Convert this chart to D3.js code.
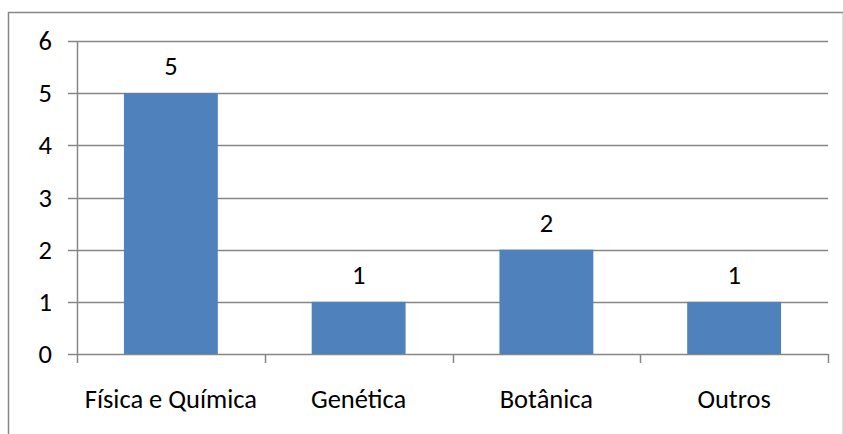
<!DOCTYPE html>
<html>
<head>
<meta charset="utf-8">
<script src="https://cdn.jsdelivr.net/npm/d3@7"></script>
<style>
  html, body { margin: 0; padding: 0; background: #fff; }
  svg { display: block; }
  text { font-family: Carlito, "Open Sans", sans-serif; fill: #000; }
</style>
</head>
<body>
<svg id="chart" width="843" height="434"></svg>
<script>
const categories = ["Física e Química", "Genética", "Botânica", "Outros"];
const values = [5, 1, 2, 1];
const yTicks = [0, 1, 2, 3, 4, 5, 6];

const svg = d3.select("#chart");
const W = 843, H = 434;
const m = { left: 77, right: 15, top: 41, bottom: 80 };
const fontSize = 26.5;

// outer chart frame
svg.append("rect")
  .attr("x", 8.5).attr("y", 12.5)
  .attr("width", W - 8).attr("height", H)
  .attr("fill", "none").attr("stroke", "#868686").attr("stroke-width", 1.5);

const x = d3.scaleBand().domain(categories).range([m.left, W - m.right]).paddingInner(0.5).paddingOuter(0.25);
const y = d3.scaleLinear().domain([0, 6]).range([H - m.bottom, m.top]);

const grey = "#868686";

// horizontal gridlines with small ticks to the left of the axis
const gy = svg.append("g");
gy.selectAll("line.grid").data(yTicks).join("line")
  .attr("class", "grid")
  .attr("x1", m.left - 9).attr("x2", W - m.right)
  .attr("y1", d => Math.round(y(d)) + 0.5).attr("y2", d => Math.round(y(d)) + 0.5)
  .attr("stroke", grey).attr("stroke-width", 1.5);

gy.selectAll("text").data(yTicks).join("text")
  .attr("x", m.left - 25).attr("y", d => y(d) + 9)
  .attr("text-anchor", "end")
  .attr("font-size", fontSize)
  .text(d => d);

// bars
svg.selectAll("rect.bar").data(values).join("rect")
  .attr("class", "bar")
  .attr("x", (d, i) => x(categories[i]))
  .attr("width", x.bandwidth())
  .attr("y", d => y(d))
  .attr("height", d => y(0) - y(d))
  .attr("fill", "#4F81BD");

// value labels
svg.selectAll("text.val").data(values).join("text")
  .attr("class", "val")
  .attr("x", (d, i) => x(categories[i]) + x.bandwidth() / 2)
  .attr("y", d => y(d) - 18)
  .attr("text-anchor", "middle")
  .attr("font-size", fontSize)
  .text(d => d);

// y axis line
svg.append("line")
  .attr("x1", m.left + 0.5).attr("x2", m.left + 0.5)
  .attr("y1", y(6)).attr("y2", y(0))
  .attr("stroke", grey).attr("stroke-width", 1.5);

// category boundary ticks below the baseline
const bounds = d3.range(categories.length + 1).map(i => m.left + i * (W - m.right - m.left) / categories.length);
svg.selectAll("line.ctick").data(bounds).join("line")
  .attr("class", "ctick")
  .attr("x1", d => Math.round(d) + 0.5).attr("x2", d => Math.round(d) + 0.5)
  .attr("y1", y(0)).attr("y2", y(0) + 9)
  .attr("stroke", grey).attr("stroke-width", 1.5);

// category labels
svg.selectAll("text.cat").data(categories).join("text")
  .attr("class", "cat")
  .attr("x", d => x(d) + x.bandwidth() / 2)
  .attr("y", 408)
  .attr("text-anchor", "middle")
  .attr("font-size", fontSize)
  .text(d => d);
</script>
</body>
</html>
